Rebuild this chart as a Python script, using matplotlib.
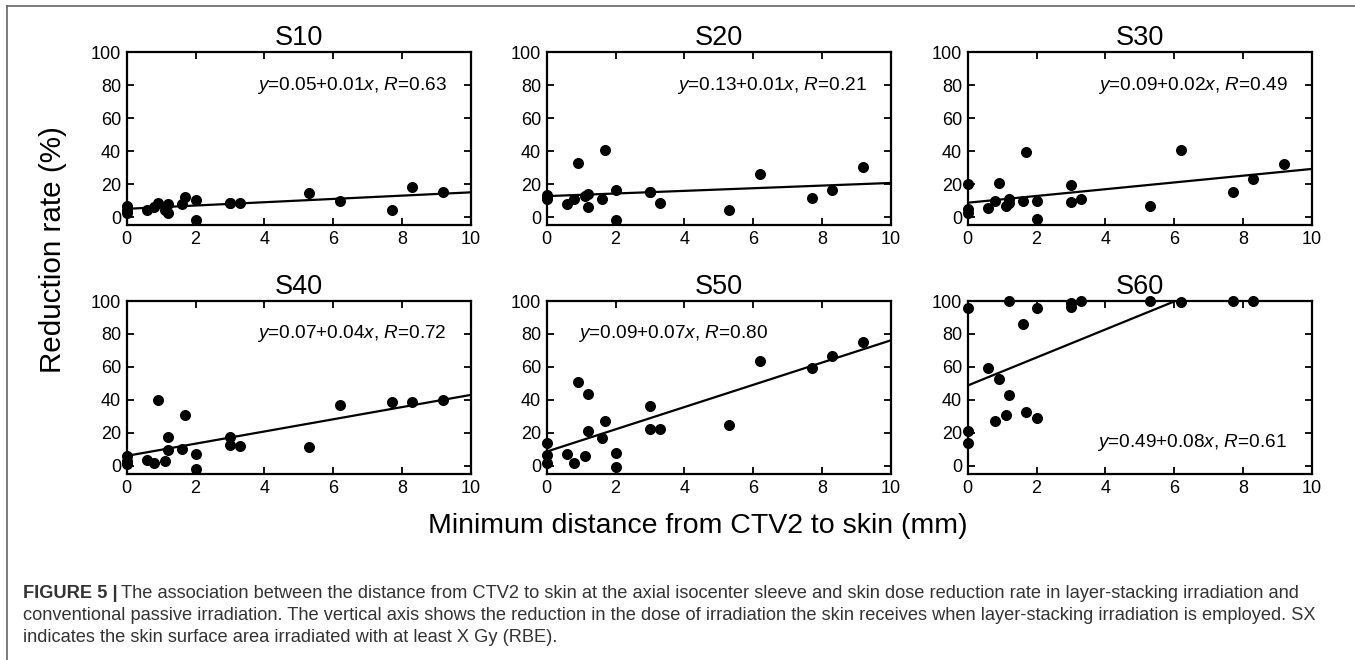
import numpy as np
import matplotlib
matplotlib.use("Agg")
from matplotlib import pyplot as plt

plt.rcParams['font.family'] = ['Liberation Sans', 'DejaVu Sans']
plt.rcParams['mathtext.fontset'] = 'custom'
plt.rcParams['mathtext.rm'] = 'Liberation Sans'
plt.rcParams['mathtext.it'] = 'Liberation Sans:italic'

# minimum distance from CTV2 to skin (mm), one value per patient
dist = [0, 0, 0, 0.6, 0.8, 0.9, 1.1, 1.2, 1.2, 1.6, 1.7, 2.0, 2.0, 3.0, 3.0, 3.3, 5.3, 6.2, 7.7, 8.3, 9.2]

# reduction rate (%) per dose level
s10 = [6.7, 4.5, 2.5, 4.0, 6.0, 8.7, 4.2, 7.7, 2.6, 8.0, 12.3, 10.3, -1.8, 8.3, 8.3, 8.3, 14.7, 9.5, 4.4, 18.5, 15.1]
s20 = [13.1, 12.0, 10.7, 8.1, 10.7, 32.9, 12.7, 14.1, 6.0, 10.7, 40.5, 16.7, -1.8, 15.5, 15.5, 8.7, 4.0, 26.0, 11.5, 16.7, 30.6]
s30 = [20.2, 5.0, 2.6, 5.2, 9.7, 20.8, 6.9, 10.7, 8.7, 9.7, 39.5, 9.7, -1.0, 19.4, 9.3, 10.7, 6.5, 40.5, 15.5, 23.2, 32.0]
s40 = [6.1, 3.0, 1.0, 3.3, 1.4, 40.0, 3.1, 17.6, 9.4, 10.4, 30.7, 7.0, -2.0, 17.6, 12.9, 11.9, 11.5, 36.6, 38.4, 39.0, 40.0]
s50 = [14.1, 6.5, 1.4, 7.0, 1.8, 50.9, 5.9, 43.6, 21.3, 16.8, 27.2, 8.0, -1.0, 36.4, 22.3, 22.3, 24.5, 63.6, 59.1, 66.9, 75.3]
s60 = [95.5, 20.8, 13.7, 59.4, 27.3, 52.7, 31.0, 100, 43.0, 86.1, 32.9, 95.9, 29.2, 99.0, 96.3, 100, 100, 99.2, 100, 100, np.nan]

titles = ['S10', 'S20', 'S30', 'S40', 'S50', 'S60']
series = [s10, s20, s30, s40, s50, s60]

# fitted lines as drawn (%)
intercepts = [5.0, 12.7, 8.7, 6.0, 8.6, 48.7]
slopes = [1.0, 0.8, 2.05, 3.7, 6.75, 8.5]

equations = [r'$\it{y}$=0.05+0.01$\it{x}$, $\it{R}$=0.63',
             r'$\it{y}$=0.13+0.01$\it{x}$, $\it{R}$=0.21',
             r'$\it{y}$=0.09+0.02$\it{x}$, $\it{R}$=0.49',
             r'$\it{y}$=0.07+0.04$\it{x}$, $\it{R}$=0.72',
             r'$\it{y}$=0.09+0.07$\it{x}$, $\it{R}$=0.80',
             r'$\it{y}$=0.49+0.08$\it{x}$, $\it{R}$=0.61']

W, H = 1355, 660
fig = plt.figure(figsize=(W / 100, H / 100), dpi=100)

lefts = [126.7, 546.7, 967.7]
tops = [52.3, 301.0]
aw, ah = 344.0, 173.0

for i in range(6):
    row, col = divmod(i, 3)
    ax = fig.add_axes([lefts[col] / W, 1 - (tops[row] + ah) / H, aw / W, ah / H])
    ax.scatter(dist, series[i], s=48, color='black', zorder=3, clip_on=False)
    xs = np.array([0, 10])
    ax.plot(xs, intercepts[i] + slopes[i] * xs, color='black', lw=1.6)
    ax.set_xlim(0, 10)
    ax.set_ylim(-5, 100)
    ax.set_xticks(range(0, 11, 2))
    ax.set_yticks(range(0, 101, 20))
    ax.tick_params(direction='in', top=True, right=True, length=5, width=1.3,
                   labelsize=13, pad=4)
    for sp in ax.spines.values():
        sp.set_linewidth(1.6)
    ax.set_title(titles[i], fontsize=19.5, pad=5)
    if i == 4:
        ax.text(0.9, 80, equations[i], fontsize=13.7, ha='left', va='center')
    elif i == 5:
        ax.text(9.28, 14.3, equations[i], fontsize=13.7, ha='right', va='center')
    else:
        ax.text(9.3, 80, equations[i], fontsize=13.7, ha='right', va='center')

fig.text(53 / W, 1 - 250 / H, 'Reduction rate (%)', rotation=90, fontsize=21.3,
         ha='center', va='center')
fig.text(698 / W, 1 - 526 / H, 'Minimum distance from CTV2 to skin (mm)',
         fontsize=20.5, ha='center', va='center')

# frame lines
fig.add_artist(plt.Line2D([7 / W, 1], [1 - 6 / H, 1 - 6 / H], color='#666666', lw=1.2))
fig.add_artist(plt.Line2D([7 / W, 7 / W], [0, 1 - 6 / H], color='#666666', lw=1.2))

cap_col = '#333333'
cap_lines = ['The association between the distance from CTV2 to skin at the axial isocenter sleeve and skin dose reduction rate in layer-stacking irradiation and',
             'conventional passive irradiation. The vertical axis shows the reduction in the dose of irradiation the skin receives when layer-stacking irradiation is employed. SX',
             'indicates the skin surface area irradiated with at least X Gy (RBE).']
cap_y = [593, 615, 637]
bold = fig.text(22.7 / W, 1 - cap_y[0] / H, 'FIGURE 5 |', fontsize=13.15, fontweight='bold',
                color=cap_col, va='center')
fig.canvas.draw()
bb = bold.get_window_extent()
fig.text((bb.x1 + 4) / W, 1 - cap_y[0] / H, cap_lines[0], fontsize=13.15, color=cap_col, va='center')
fig.text(22.7 / W, 1 - cap_y[1] / H, cap_lines[1], fontsize=13.15, color=cap_col, va='center')
fig.text(22.7 / W, 1 - cap_y[2] / H, cap_lines[2], fontsize=13.15, color=cap_col, va='center')

fig.savefig('out.png', dpi=100)
